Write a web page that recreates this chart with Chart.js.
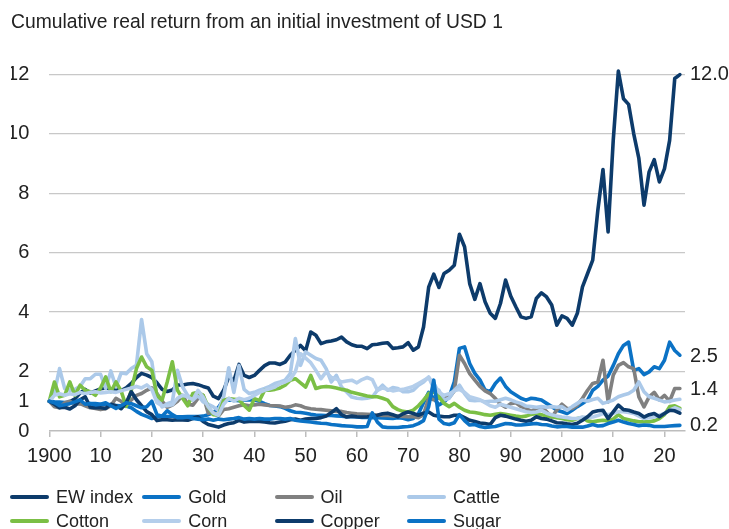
<!DOCTYPE html>
<html>
<head>
<meta charset="utf-8">
<script src="https://cdn.jsdelivr.net/npm/chart.js@4.4.1/dist/chart.umd.min.js"></script>
<style>
  html, body { margin: 0; padding: 0; background: #ffffff; overflow: hidden; }
  #wrap { position: relative; width: 729px; height: 529px; overflow: hidden; }
  #chart { position: absolute; left: 0; top: 0; }
  .lg-item { position: absolute; height: 24px; font-family: "Liberation Sans", Arial, sans-serif; font-size: 18px; color: #222; white-space: nowrap; }
  .lg-line { position: absolute; left: 0; top: 10px; width: 39px; height: 4px; border-radius: 2px; }
  .lg-text { position: absolute; left: 46px; top: 0; line-height: 24px; }
</style>
</head>
<body>
<div id="wrap">
  <canvas id="chart" width="729" height="529"></canvas>
  <div id="legend"></div>
</div>
<script>
// ---------------- DATA ----------------
const startYear = 1900;
const seriesNames = ["EW index", "Gold", "Oil", "Cattle", "Cotton", "Corn", "Copper", "Sugar"];
const seriesColors = ["#0d3b6b", "#0b72c5", "#808080", "#abc9e9", "#7bbf45", "#b4ceeb", "#0d3b6b", "#0b72c5"];
const xTickYears = [1900, 1910, 1920, 1930, 1940, 1950, 1960, 1970, 1980, 1990, 2000, 2010, 2020];
const yTickValues = [0, 1, 2, 4, 6, 8, 10, 12];
const endLabelValues = [12.0, 2.5, 1.4, 0.2];

const ewIndex = [
1.00,0.90,0.86,0.92,0.98,1.08,1.28,1.40,1.28,1.35,
1.42,1.45,1.42,1.40,1.36,1.45,1.60,1.80,1.94,1.88,
1.80,1.62,1.40,1.33,1.38,1.55,1.55,1.58,1.60,1.56,
1.50,1.45,1.17,1.09,1.37,1.82,1.70,2.24,1.87,1.80,
1.87,2.04,2.20,2.29,2.29,2.24,2.32,2.55,2.72,2.88,
2.70,3.33,3.22,2.94,3.00,3.03,3.07,3.16,3.00,2.90,
2.85,2.85,2.77,2.90,2.92,2.95,2.97,2.78,2.80,2.83,
2.97,2.72,2.83,3.50,4.84,5.28,4.83,5.30,5.41,5.58,
6.62,6.20,4.96,4.43,4.96,4.35,3.96,3.79,4.29,5.08,
4.54,4.18,3.84,3.79,3.84,4.46,4.65,4.51,4.24,3.56,
3.87,3.79,3.56,3.96,4.85,5.30,5.75,7.43,8.80,6.70,
9.78,12.11,11.18,10.99,10.00,9.17,7.60,8.72,9.13,8.38,
8.83,9.78,11.86,11.99];

const gold = [
1.00,0.98,0.97,0.96,0.96,0.95,0.93,0.90,0.92,0.92,
0.90,0.89,0.87,0.86,0.85,0.84,0.78,0.66,0.56,0.49,
0.42,0.47,0.50,0.49,0.49,0.48,0.48,0.49,0.49,0.49,
0.50,0.55,0.61,0.80,1.05,1.04,1.04,1.02,1.04,1.05,
1.04,1.00,0.92,0.86,0.84,0.82,0.76,0.68,0.63,0.62,
0.60,0.56,0.54,0.53,0.52,0.52,0.51,0.50,0.48,0.48,
0.47,0.46,0.46,0.45,0.45,0.44,0.43,0.42,0.45,0.43,
0.38,0.42,0.58,0.95,1.30,1.10,0.88,0.98,1.15,1.65,
2.78,2.83,2.27,1.94,1.72,1.38,1.32,1.60,1.78,1.50,
1.32,1.21,1.10,1.04,1.10,1.08,1.04,0.93,0.82,0.70,
0.65,0.59,0.70,0.82,0.93,1.04,1.37,1.50,1.71,1.85,
2.20,2.60,2.88,2.99,2.04,2.10,1.90,1.99,2.16,2.10,
2.38,2.99,2.71,2.55];

const oil = [
1.00,0.82,0.78,0.95,1.00,0.90,0.92,0.85,0.78,0.76,
0.72,0.75,0.85,1.10,1.00,0.85,1.05,1.20,1.26,1.37,
1.45,1.26,1.00,0.80,0.87,1.00,1.20,0.90,0.87,1.10,
1.20,0.60,0.62,0.50,0.72,0.75,0.80,0.85,0.88,0.85,
0.88,0.90,0.88,0.86,0.85,0.84,0.80,0.82,0.88,0.85,
0.78,0.75,0.73,0.72,0.70,0.68,0.66,0.66,0.62,0.60,
0.58,0.57,0.56,0.55,0.53,0.52,0.52,0.51,0.50,0.49,
0.48,0.48,0.45,0.55,1.10,1.05,1.12,1.15,1.12,1.35,
2.55,2.27,1.93,1.71,1.50,1.35,1.26,1.10,0.90,0.80,
0.92,0.95,0.82,0.76,0.66,0.76,0.80,0.65,0.47,0.70,
0.90,0.75,0.76,0.87,1.10,1.37,1.60,1.65,2.38,0.98,
1.88,2.21,2.30,2.16,2.10,1.15,0.81,1.15,1.30,1.05,
1.20,1.00,1.43,1.43];

const cattle = [
1.00,1.30,2.10,1.43,1.37,1.40,1.50,1.76,1.76,1.91,
1.91,1.43,2.02,1.48,1.95,1.93,2.10,2.21,3.75,2.60,
2.33,1.15,0.81,0.92,0.98,2.04,1.48,1.20,1.04,1.20,
0.98,0.90,0.81,0.70,1.14,2.13,1.30,2.20,1.40,1.26,
1.30,1.37,1.43,1.50,1.60,1.65,1.71,1.93,3.11,2.21,
2.66,2.55,2.44,2.38,2.10,1.65,1.87,1.48,1.31,1.14,
1.10,1.09,1.10,1.14,1.37,1.54,1.37,1.46,1.43,1.32,
1.32,1.37,1.54,1.65,1.82,1.43,1.37,1.04,1.10,1.37,
1.54,1.26,1.04,1.02,1.04,0.98,1.00,1.00,1.05,1.10,
1.05,0.98,0.93,0.84,0.82,0.80,0.82,0.80,0.82,0.80,
0.82,0.70,0.82,0.93,1.04,1.00,1.06,1.10,0.93,0.98,
1.04,1.15,1.21,1.26,1.37,1.65,1.32,1.15,1.10,1.04,
0.98,1.00,1.04,1.07];

const cotton = [
1.00,1.65,1.15,1.20,1.65,1.20,1.54,1.37,1.32,1.20,
1.45,1.82,1.32,1.65,1.35,0.83,1.37,2.10,2.49,2.16,
2.04,1.20,1.04,1.65,2.33,1.37,1.10,0.85,1.26,1.30,
1.20,0.81,0.55,0.53,1.03,1.09,1.07,1.05,0.86,0.70,
1.09,1.03,1.37,1.37,1.40,1.45,1.54,1.71,1.76,1.62,
1.48,1.87,1.43,1.48,1.50,1.48,1.45,1.40,1.37,1.30,
1.26,1.22,1.18,1.15,1.15,1.10,1.04,0.82,0.72,0.66,
0.64,0.70,0.85,1.04,1.26,1.32,1.15,0.93,0.82,0.93,
0.80,0.70,0.64,0.62,0.59,0.55,0.53,0.56,0.59,0.56,
0.53,0.50,0.48,0.50,0.56,0.59,0.55,0.50,0.48,0.45,
0.42,0.38,0.36,0.42,0.45,0.34,0.31,0.34,0.36,0.34,
0.40,0.55,0.42,0.38,0.34,0.31,0.31,0.31,0.34,0.42,
0.55,0.82,0.85,0.76];

const corn = [
1.00,1.20,1.25,1.20,1.25,1.22,1.30,1.25,1.30,1.32,
1.28,1.30,1.32,1.30,1.35,1.40,1.45,1.50,1.45,1.55,
1.40,0.95,0.85,0.85,0.88,1.10,1.20,1.15,1.05,1.37,
1.14,0.81,0.60,0.53,0.90,1.10,1.00,1.10,1.05,1.10,
1.20,1.30,1.37,1.42,1.48,1.60,1.65,1.73,2.00,2.60,
2.45,2.30,2.04,1.76,1.99,1.80,1.75,1.65,1.68,1.71,
1.62,1.73,1.80,1.73,1.37,1.45,1.40,1.35,1.38,1.40,
1.45,1.50,1.60,1.70,1.80,1.60,1.30,1.20,1.25,1.35,
1.40,1.30,1.15,1.10,1.05,0.95,0.85,0.80,0.90,0.85,
0.80,0.75,0.70,0.65,0.62,0.64,0.70,0.60,0.55,0.50,
0.47,0.45,0.42,0.42,0.47,0.45,0.47,0.52,0.59,0.55,
0.60,0.65,0.65,0.62,0.59,0.50,0.42,0.45,0.47,0.53,
0.59,0.70,0.78,0.72];

const copper = [
1.00,0.90,0.78,0.80,0.74,0.85,1.05,1.15,0.80,0.78,
0.78,0.76,0.90,0.85,0.75,0.95,1.32,1.05,0.85,0.65,
0.55,0.35,0.38,0.38,0.36,0.38,0.37,0.36,0.42,0.48,
0.32,0.22,0.18,0.13,0.20,0.25,0.28,0.36,0.30,0.32,
0.33,0.32,0.30,0.28,0.27,0.30,0.33,0.38,0.40,0.36,
0.40,0.42,0.42,0.45,0.50,0.62,0.75,0.55,0.47,0.50,
0.48,0.47,0.48,0.50,0.53,0.58,0.60,0.55,0.48,0.58,
0.64,0.59,0.53,0.60,0.64,0.53,0.50,0.48,0.48,0.53,
0.53,0.45,0.36,0.32,0.27,0.25,0.22,0.45,0.53,0.50,
0.45,0.40,0.36,0.33,0.36,0.48,0.42,0.40,0.34,0.28,
0.27,0.24,0.22,0.26,0.36,0.48,0.64,0.68,0.70,0.42,
0.64,0.87,0.72,0.70,0.64,0.59,0.47,0.55,0.59,0.48,
0.59,0.70,0.68,0.60];

const sugar = [
1.00,0.95,0.85,0.88,0.92,0.98,1.05,0.90,0.92,0.88,
0.90,0.95,0.85,0.76,0.85,0.95,0.92,0.85,0.78,0.82,
1.00,0.55,0.50,0.68,0.55,0.45,0.45,0.47,0.42,0.40,
0.38,0.40,0.36,0.40,0.38,0.40,0.42,0.45,0.40,0.42,
0.40,0.42,0.40,0.40,0.42,0.42,0.40,0.42,0.36,0.34,
0.32,0.30,0.28,0.26,0.25,0.22,0.20,0.18,0.17,0.16,
0.14,0.14,0.15,0.61,0.30,0.14,0.12,0.12,0.12,0.14,
0.15,0.18,0.25,0.35,0.82,1.71,0.40,0.25,0.22,0.28,
0.55,0.35,0.20,0.22,0.15,0.12,0.14,0.15,0.20,0.25,
0.24,0.20,0.20,0.22,0.24,0.25,0.22,0.21,0.17,0.14,
0.15,0.15,0.13,0.13,0.13,0.17,0.22,0.17,0.18,0.25,
0.30,0.36,0.30,0.25,0.22,0.18,0.20,0.19,0.15,0.15,
0.15,0.17,0.18,0.19];

const seriesValues = [ewIndex, gold, oil, cattle, cotton, corn, copper, sugar];
const years = ewIndex.map((_, i) => startYear + i);

// ---------------- CHART ----------------
const FONT = '"Liberation Sans", Arial, Helvetica, sans-serif';
const TEXT = '#222222';
const GRID = '#c8c8c8';
const AXIS = '#bdbdbd';

const datasets = seriesNames.map((name, k) => ({
  label: name,
  data: years.map((yr, i) => ({ x: yr, y: seriesValues[k][i] })),
  borderColor: seriesColors[k],
  backgroundColor: seriesColors[k],
  borderWidth: 3.6,
  pointRadius: 0,
  tension: 0,
  fill: false,
  clip: false,
  borderJoinStyle: 'round',
  borderCapStyle: 'round',
  order: seriesNames.length - k
}));

new Chart(document.getElementById('chart'), {
  type: 'line',
  data: { datasets },
  options: {
    responsive: false,
    animation: false,
    events: [],
    layout: { padding: { left: 11, right: 0, top: 0, bottom: 56 } },
    plugins: {
      legend: { display: false },
      tooltip: { enabled: false },
      title: {
        display: true,
        text: 'Cumulative real return from an initial investment of USD 1',
        align: 'start',
        color: TEXT,
        font: { family: FONT, size: 19.3, weight: 'normal', lineHeight: 1.2 },
        padding: { top: 11, bottom: 40.2 }
      }
    },
    scales: {
      x: {
        type: 'linear',
        min: 1900,
        max: 2024,
        afterBuildTicks: (s) => { s.ticks = xTickYears.map(v => ({ value: v })); },
        afterFit: (s) => { s.height = 42; },
        ticks: {
          autoSkip: false,
          maxRotation: 0,
          padding: 7,
          color: TEXT,
          font: { family: FONT, size: 20 },
          callback: (v) => (v === 1900 || v === 2000) ? String(v) : String(v % 100)
        },
        grid: { drawOnChartArea: false, drawTicks: true, tickLength: 6, color: AXIS, lineWidth: 1.5 },
        border: { display: true, color: AXIS, width: 1.5 }
      },
      y: {
        type: 'linear',
        position: 'left',
        min: 0,
        max: 12,
        afterBuildTicks: (s) => { s.ticks = yTickValues.map(v => ({ value: v })); },
        afterFit: (s) => { s.width = 38.3; },
        ticks: { padding: 20, color: TEXT, font: { family: FONT, size: 20 } },
        grid: {
          drawTicks: false,
          lineWidth: 1.3,
          color: (ctx) => (ctx.tick && (ctx.tick.value === 1 || ctx.tick.value === 0)) ? 'rgba(0,0,0,0)' : GRID
        },
        border: { display: false }
      },
      yEnd: {
        type: 'linear',
        position: 'right',
        min: 0,
        max: 12,
        afterBuildTicks: (s) => { s.ticks = endLabelValues.map(v => ({ value: v })); },
        afterFit: (s) => { s.width = 44; },
        ticks: { padding: 5, color: TEXT, font: { family: FONT, size: 20 }, callback: (v) => Number(v).toFixed(1) },
        grid: { display: false, drawTicks: false },
        border: { display: false }
      }
    }
  }
});

// ---------------- LEGEND (HTML) ----------------
const legend = document.getElementById('legend');
seriesNames.forEach((name, k) => {
  const col = k % 4, row = Math.floor(k / 4);
  const item = document.createElement('div');
  item.className = 'lg-item';
  item.style.left = (10 + col * 132.3) + 'px';
  item.style.top = (484.7 + row * 24) + 'px';
  const line = document.createElement('div');
  line.className = 'lg-line';
  line.style.background = seriesColors[k];
  const txt = document.createElement('div');
  txt.className = 'lg-text';
  txt.textContent = name;
  item.appendChild(line);
  item.appendChild(txt);
  legend.appendChild(item);
});
</script>
</body>
</html>
